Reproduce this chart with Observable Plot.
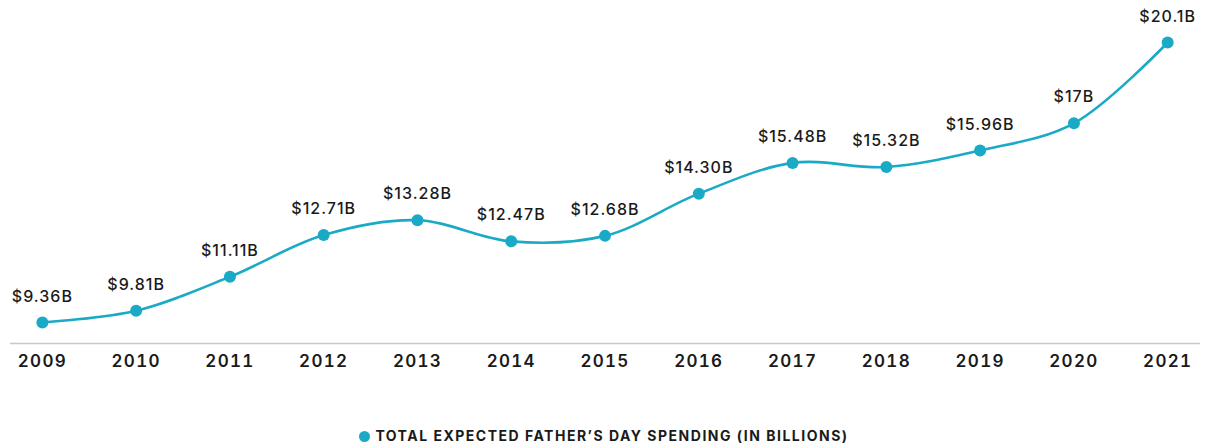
<!DOCTYPE html>
<html>
<head>
<meta charset="utf-8">
<script src="https://cdn.jsdelivr.net/npm/d3@7"></script>
<script src="https://cdn.jsdelivr.net/npm/@observablehq/plot@0.6"></script>
<style>
  html, body { margin: 0; padding: 0; background: #fff; }
  body { width: 1208px; height: 447px; overflow: hidden; font-family: Inter, "Open Sans", sans-serif; }
  #chart svg { display: block; }
  #chart g[aria-label="text"] text { letter-spacing: 1px; }
  #chart g[aria-label="x-axis tick label"] text { letter-spacing: 1.3px; }
  #legend { position: absolute; left: 0; top: 427px; width: 1208px; text-align: center; font-size: 14px; font-weight: 700; color: #1a1a1a; letter-spacing: 1.5px; }
  #legend .dot { display: inline-block; width: 11px; height: 11px; border-radius: 50%; background: #1aaac6; margin-right: 5px; vertical-align: -1px; }
</style>
</head>
<body>
<div id="chart"></div>
<div id="legend"><span class="dot"></span>TOTAL EXPECTED FATHER’S DAY SPENDING (IN BILLIONS)</div>
<script>
const years = [2009, 2010, 2011, 2012, 2013, 2014, 2015, 2016, 2017, 2018, 2019, 2020, 2021];
const spending = [9.36, 9.81, 11.11, 12.71, 13.28, 12.47, 12.68, 14.30, 15.48, 15.32, 15.96, 17, 20.1];
const valueLabels = ["$9.36B", "$9.81B", "$11.11B", "$12.71B", "$13.28B", "$12.47B", "$12.68B", "$14.30B", "$15.48B", "$15.32B", "$15.96B", "$17B", "$20.1B"];
const seriesName = "TOTAL EXPECTED FATHER’S DAY SPENDING (IN BILLIONS)";

const data = years.map((y, i) => ({year: y, value: spending[i], label: valueLabels[i]}));
const color = "#1aaac6";
const yMin = 8.55;

const chart = Plot.plot({
  width: 1208,
  height: 420,
  marginLeft: 10,
  marginRight: 8,
  marginTop: 42,
  marginBottom: 77,
  style: {fontFamily: "Inter, 'Open Sans', sans-serif", background: "#fff"},
  x: {domain: [2008.66, 2021.35], label: null},
  y: {domain: [yMin, 20.1], axis: null},
  marks: [
    Plot.ruleY([yMin], {stroke: "#c8c8c8", strokeWidth: 1.5}),
    Plot.axisX({ticks: years, tickFormat: "d", tickSize: 0, tickPadding: 11, fontSize: 17, fontWeight: 600, fill: "#1a1a1a", label: null}),
    Plot.line(data, {x: "year", y: "value", curve: "catmull-rom", stroke: color, strokeWidth: 2.6}),
    Plot.dot(data, {x: "year", y: "value", r: 6, fill: color}),
    Plot.text(data, {x: "year", y: "value", text: "label", dy: -26, fontSize: 16, fontWeight: 500, fill: "#1a1a1a"})
  ]
});
document.getElementById("chart").appendChild(chart);
</script>
</body>
</html>
